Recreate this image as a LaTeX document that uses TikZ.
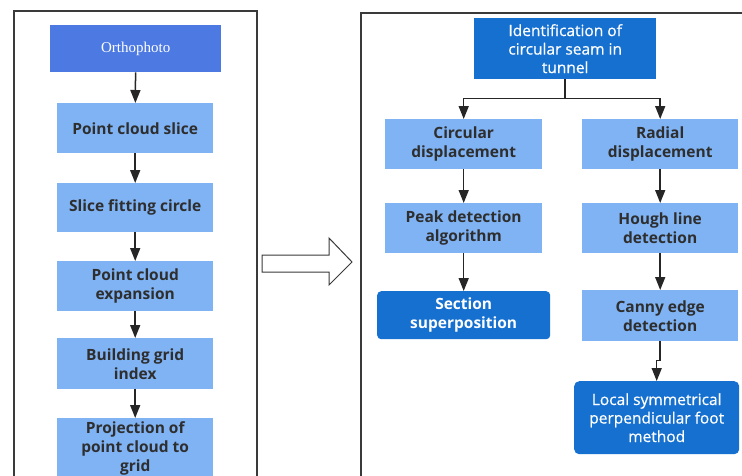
\documentclass[tikz,border=0pt]{standalone}
\usepackage{fontspec}
\setmainfont{Open Sans}
\newfontfamily\serifcap{Liberation Serif}
\newfontfamily\mediumsans[FakeBold=0.6]{Open Sans}
\usetikzlibrary{arrows.meta,calc}
\definecolor{lightbox}{HTML}{7FB3F4}
\definecolor{darkbox}{HTML}{1570D0}
\definecolor{photobox}{HTML}{4C79E2}
\definecolor{inktext}{HTML}{2E2E2E}
\definecolor{framegray}{HTML}{3A3A3A}
\tikzset{
  lightstep/.style={fill=lightbox, draw=none, text=inktext, align=center,
    font=\fontsize{15.5}{19}\selectfont\bfseries, inner sep=0pt, anchor=north west},
  darkstep/.style={fill=darkbox, draw=none, text=white, align=center,
    font=\fontsize{15.5}{19}\selectfont\bfseries, inner sep=0pt, anchor=north west},
  plainwhite/.style={font=\mediumsans\fontsize{15.5}{18.5}\selectfont},
  flow/.style={draw=black!85, line width=1.5pt, -{Triangle[length=13pt,width=10pt]}},
  frame/.style={draw=framegray, line width=1.6pt}
}
\begin{document}
\begin{tikzpicture}[x=1pt,y=-1pt]
\clip (0,0) rectangle (742,475);
\fill[white] (0,0) rectangle (742,475);

% outer frames
\draw[frame] (14,480) -- (14,11) -- (257,11) -- (257,480);
\draw[frame] (361,480) -- (361,13) -- (746,13);

% left column: preprocessing chain
\node[fill=photobox, text=white, inner sep=0pt, anchor=north west,
      minimum width=171pt, minimum height=47pt,
      font=\serifcap\fontsize{15}{17}\selectfont] (photo) at (50,25) {Orthophoto};
\node[lightstep, minimum width=156pt, minimum height=50pt] (slice) at (57,103) {Point cloud slice};
\node[lightstep, minimum width=156pt, minimum height=49pt] (fit) at (57,183) {Slice fitting circle};
\node[lightstep, minimum width=156pt, minimum height=50pt] (expand) at (57,261) {Point cloud\\expansion};
\node[lightstep, minimum width=156pt, minimum height=51pt] (grid) at (57,338) {Building grid\\index};
\node[lightstep, minimum width=156pt, minimum height=60pt] (proj) at (57,418) {Projection of\\point cloud to\\grid};

\draw[flow] (photo) -- (slice);
\draw[flow] (slice) -- (fit);
\draw[flow] (fit) -- (expand);
\draw[flow] (expand) -- (grid);
\draw[flow] (grid) -- (proj.north);

% hollow transfer arrow
\draw[draw=framegray, line width=1pt, fill=white] (262,255) -- (329,255) -- (329,238) -- (352,262)
  -- (329,285) -- (329,272) -- (262,272) -- cycle;

% right column: seam identification
\node[darkstep, plainwhite, minimum width=182pt, minimum height=61pt] (ident) at (474,18) {Identification of\\circular seam in\\tunnel};
\node[lightstep, minimum width=157pt, minimum height=50pt] (circ) at (385,119) {Circular\\displacement};
\node[lightstep, minimum width=156pt, minimum height=50pt] (radial) at (582,119) {Radial\\displacement};
\node[lightstep, minimum width=157pt, minimum height=50pt] (peak) at (385,203) {Peak detection\\algorithm};
\node[lightstep, minimum width=156pt, minimum height=50pt] (hough) at (582,203) {Hough line\\detection};
\node[darkstep, rounded corners=4pt, minimum width=173pt, minimum height=48pt] (section) at (377,291) {Section\\superposition};
\node[lightstep, minimum width=156pt, minimum height=51pt] (canny) at (582,290) {Canny edge\\detection};
\node[darkstep, plainwhite, rounded corners=5pt, minimum width=165pt, minimum height=73pt] (foot) at (574,381) {Local symmetrical\\perpendicular foot\\method};

\coordinate (split) at ($(ident.south)+(0,19)$);
\draw[draw=black!85, line width=1.5pt] (ident.south) -- (split);
\draw[flow] (split) -| (circ.north);
\draw[flow] (split) -| (radial.north);
\draw[flow] (circ) -- (peak);
\draw[flow] (radial) -- (hough);
\draw[flow] (peak.south) -- (peak.south |- section.north);
\draw[flow] (hough) -- (canny);
\draw[flow] (canny.south) -- ++(0,19) -| (foot.north);
\end{tikzpicture}
\end{document}
